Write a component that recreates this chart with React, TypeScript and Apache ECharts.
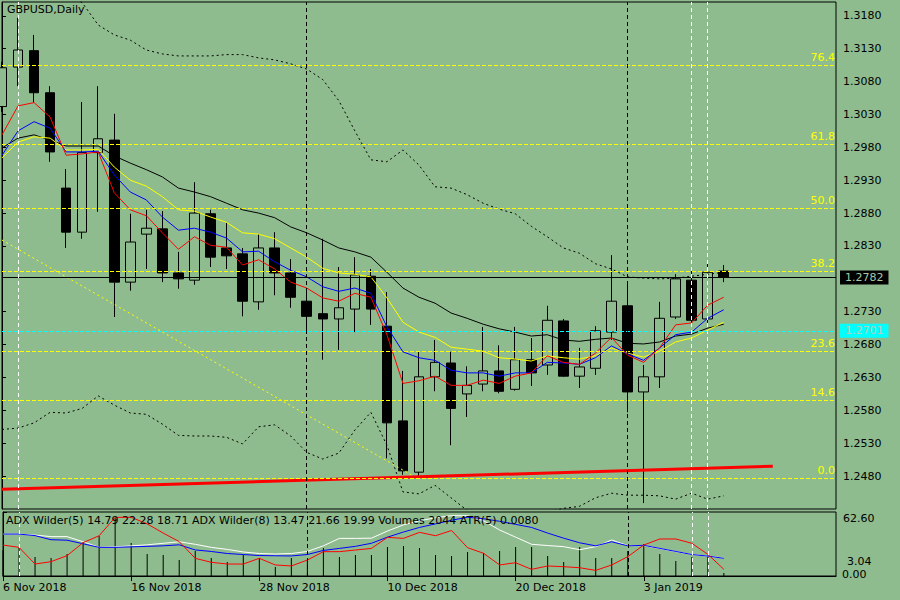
import React, { useEffect, useRef } from "react";
import * as echarts from "echarts";

const FONT = '"DejaVu Sans", sans-serif';
const BG = "#8FBC8F";

const dates = [
  "6 Nov 2018", "7 Nov 2018", "8 Nov 2018", "9 Nov 2018", "12 Nov 2018", "13 Nov 2018", "14 Nov 2018", "15 Nov 2018",
  "16 Nov 2018", "19 Nov 2018", "20 Nov 2018", "21 Nov 2018", "22 Nov 2018", "23 Nov 2018", "26 Nov 2018", "27 Nov 2018",
  "28 Nov 2018", "29 Nov 2018", "30 Nov 2018", "3 Dec 2018", "4 Dec 2018", "5 Dec 2018", "6 Dec 2018", "7 Dec 2018",
  "10 Dec 2018", "11 Dec 2018", "12 Dec 2018", "13 Dec 2018", "14 Dec 2018", "17 Dec 2018", "18 Dec 2018", "19 Dec 2018",
  "20 Dec 2018", "21 Dec 2018", "24 Dec 2018", "26 Dec 2018", "27 Dec 2018", "28 Dec 2018", "31 Dec 2018", "2 Jan 2019",
  "3 Jan 2019", "4 Jan 2019", "7 Jan 2019", "8 Jan 2019", "9 Jan 2019", "10 Jan 2019",
];
const emptySlots = 7;

const opens = [1.3042, 1.3102, 1.3127, 1.3063, 1.2918, 1.2851, 1.2972, 1.2991, 1.2775, 1.2848, 1.2856, 1.2789, 1.2778, 1.2879, 1.2827, 1.2818, 1.2745, 1.2827, 1.2789, 1.2746, 1.2727, 1.2719, 1.2734, 1.2784, 1.2708, 1.2564, 1.2486, 1.2631, 1.2652, 1.2605, 1.2620, 1.2640, 1.2612, 1.2657, 1.2649, 1.2716, 1.2632, 1.2644, 1.2699, 1.2739, 1.2608, 1.2631, 1.2722, 1.2778, 1.2719, 1.2792];
const closes = [1.3101, 1.3128, 1.3063, 1.2973, 1.2851, 1.2972, 1.2993, 1.2775, 1.2836, 1.2857, 1.2789, 1.2780, 1.2880, 1.2813, 1.2815, 1.2746, 1.2827, 1.2789, 1.2752, 1.2723, 1.2719, 1.2736, 1.2786, 1.2734, 1.2561, 1.2488, 1.2631, 1.2653, 1.2583, 1.2618, 1.2640, 1.2609, 1.2657, 1.2637, 1.2717, 1.2632, 1.2646, 1.2701, 1.2746, 1.2608, 1.2631, 1.2720, 1.2780, 1.2717, 1.2790, 1.2782];
const lows = [1.3034, 1.3073, 1.3048, 1.2958, 1.2827, 1.2841, 1.2882, 1.2722, 1.2762, 1.2795, 1.2775, 1.2765, 1.2771, 1.2798, 1.2795, 1.2723, 1.2733, 1.2755, 1.2736, 1.2702, 1.2657, 1.2672, 1.2699, 1.2710, 1.2507, 1.2482, 1.2480, 1.2609, 1.2527, 1.2570, 1.2609, 1.2606, 1.2610, 1.2617, 1.2634, 1.2631, 1.2614, 1.2634, 1.2687, 1.2577, 1.2439, 1.2614, 1.2719, 1.2713, 1.2713, 1.2775];
const highs = [1.3110, 1.3177, 1.3151, 1.3073, 1.2947, 1.3049, 1.3073, 1.3031, 1.2879, 1.2885, 1.2883, 1.2821, 1.2927, 1.2885, 1.2865, 1.2827, 1.2848, 1.2851, 1.2810, 1.2763, 1.2841, 1.2798, 1.2813, 1.2795, 1.2760, 1.2640, 1.2670, 1.2687, 1.2669, 1.2647, 1.2707, 1.2679, 1.2707, 1.2690, 1.2739, 1.2719, 1.2675, 1.2708, 1.2816, 1.2772, 1.2649, 1.2745, 1.2787, 1.2798, 1.2804, 1.2801];

const maRed = [1.2999, 1.3043, 1.3048, 1.3026, 1.2968, 1.2970, 1.2973, 1.2911, 1.2885, 1.2876, 1.2850, 1.2825, 1.2844, 1.2831, 1.2828, 1.2801, 1.2809, 1.2795, 1.2775, 1.2766, 1.2751, 1.2746, 1.2758, 1.2752, 1.2695, 1.2621, 1.2625, 1.2632, 1.2618, 1.2618, 1.2626, 1.2621, 1.2632, 1.2637, 1.2663, 1.2653, 1.2650, 1.2667, 1.2691, 1.2664, 1.2653, 1.2675, 1.2710, 1.2713, 1.2740, 1.2752];
const maBlue = [1.2968, 1.3005, 1.3019, 1.3009, 1.2973, 1.2973, 1.2974, 1.2938, 1.2912, 1.2900, 1.2874, 1.2854, 1.2857, 1.2851, 1.2842, 1.2821, 1.2822, 1.2806, 1.2793, 1.2783, 1.2768, 1.2761, 1.2766, 1.2758, 1.2707, 1.2669, 1.2660, 1.2656, 1.2641, 1.2637, 1.2637, 1.2632, 1.2637, 1.2637, 1.2653, 1.2652, 1.2650, 1.2660, 1.2678, 1.2666, 1.2656, 1.2675, 1.2695, 1.2699, 1.2720, 1.2733];
const maYellow = [1.2964, 1.2988, 1.2996, 1.2994, 1.2976, 1.2976, 1.2977, 1.2950, 1.2930, 1.2921, 1.2905, 1.2885, 1.2883, 1.2874, 1.2866, 1.2850, 1.2848, 1.2841, 1.2827, 1.2813, 1.2796, 1.2789, 1.2787, 1.2783, 1.2751, 1.2714, 1.2699, 1.2691, 1.2676, 1.2673, 1.2670, 1.2660, 1.2658, 1.2655, 1.2663, 1.2660, 1.2658, 1.2663, 1.2675, 1.2667, 1.2661, 1.2670, 1.2684, 1.2690, 1.2702, 1.2714];
const maBlack = [1.2979, 1.2994, 1.2999, 1.2991, 1.2982, 1.2982, 1.2982, 1.2967, 1.2956, 1.2946, 1.2935, 1.2918, 1.2912, 1.2905, 1.2895, 1.2885, 1.2880, 1.2873, 1.2859, 1.2850, 1.2839, 1.2827, 1.2821, 1.2813, 1.2790, 1.2766, 1.2752, 1.2743, 1.2728, 1.2720, 1.2711, 1.2704, 1.2699, 1.2693, 1.2695, 1.2687, 1.2685, 1.2688, 1.2690, 1.2682, 1.2681, 1.2684, 1.2693, 1.2696, 1.2705, 1.2711];

const bbUpper = [1.3250, 1.3242, 1.3235, 1.3226, 1.3213, 1.3200, 1.3166, 1.3151, 1.3143, 1.3128, 1.3122, 1.3119, 1.3119, 1.3119, 1.3121, 1.3121, 1.3116, 1.3113, 1.3107, 1.3099, 1.3083, 1.3051, 1.3005, 1.2961, 1.2958, 1.2976, 1.2953, 1.2920, 1.2918, 1.2908, 1.2895, 1.2886, 1.2879, 1.2860, 1.2844, 1.2827, 1.2819, 1.2803, 1.2795, 1.2783, 1.2781, 1.2780, 1.2781, 1.2784, 1.2787, 1.2790];
const bbLower = [1.2551, 1.2553, 1.2561, 1.2577, 1.2576, 1.2583, 1.2602, 1.2588, 1.2576, 1.2574, 1.2559, 1.2542, 1.2541, 1.2541, 1.2539, 1.2529, 1.2555, 1.2558, 1.2541, 1.2516, 1.2506, 1.2515, 1.2550, 1.2577, 1.2527, 1.2456, 1.2453, 1.2466, 1.2447, 1.2428, 1.2421, 1.2416, 1.2416, 1.2421, 1.2425, 1.2431, 1.2434, 1.2447, 1.2454, 1.2451, 1.2451, 1.2450, 1.2445, 1.2454, 1.2445, 1.2450];

const volumes = [18000, 19600, 13300, 12600, 15400, 23800, 28000, 40600, 23100, 15400, 14700, 11200, 17500, 12600, 9800, 14700, 12600, 6300, 12600, 11200, 19600, 13300, 14700, 14700, 20300, 21000, 19600, 14700, 14000, 16800, 16100, 17500, 20300, 20300, 14000, 9800, 20300, 12600, 12600, 17500, 22400, 15400, 10500, 13300, 14700, 2044];
const adxBlue = [41, 41, 39.5, 35.5, 35, 31.5, 28, 28, 28.5, 29, 29.5, 30.5, 25.5, 24, 22, 21, 20, 19.8, 19.6, 21, 25, 27, 29, 32, 38, 43, 47.5, 51, 54.5, 57.5, 56, 53.5, 50.5, 47.5, 42, 37, 32.5, 29.5, 33.5, 29.5, 30, 27, 24, 21, 19.5, 17.3];
const adxWhite = [41, 41, 40, 38.5, 38.5, 33.5, 28, 28.5, 29.5, 30.5, 32, 33.5, 31, 28, 26, 23.5, 22, 21.5, 22, 24, 29.5, 36.8, 36.8, 37, 44, 50, 54, 57, 59, 59, 54, 45, 38, 31, 29.8, 28.7, 25.7, 28.7, 35.2, 29.7, 29.8, 26.8, 23.8, 21, 19.5, 17.5];
const adxRed = [30.3, 28, 11.7, 14, 19.9, 32.6, 39.4, 57.4, 57.4, 51, 42, 33.6, 17.3, 13.4, 11.7, 11.7, 17.3, 10.8, 9.8, 15.6, 23.8, 23.8, 25.4, 27, 37.8, 36.8, 42.7, 39.4, 44.5, 27.7, 22.2, 10.8, 13, 6.5, 9.8, 9.1, 8.1, 5.5, 10.8, 18.9, 30.3, 36.2, 36.2, 32, 21.2, 6.5];

const priceTicks = [1.248, 1.253, 1.258, 1.263, 1.268, 1.273, 1.283, 1.288, 1.293, 1.298, 1.303, 1.308, 1.313, 1.318];
const fibLabels = ["0.0", "14.6", "23.6", "38.2", "50.0", "61.8", "76.4"];
const fibPrices = [1.2477, 1.2596, 1.2670, 1.2792, 1.2888, 1.2985, 1.3105];
const fibDiagonal = [[0, 1.2839], [25.8, 1.2478]];
const trendLine = [[0, 1.2460], [48.06, 1.2495]];
const separators = [19, 39];
const whiteLines = [1, 43, 44];
const lastPrice = 1.2782;
const cyanPrice = 1.2701;

const subTitle = "ADX Wilder(5) 14.79 22.28 18.71 ADX Wilder(8) 13.47 21.66 19.99 Volumes 2044 ATR(5) 0.0080";

function vLines() {
  return [
    ...separators.map((x) => ({ xAxis: x, lineStyle: { color: "#000", type: [4, 3], width: 1 } })),
    ...whiteLines.map((x) => ({ xAxis: x, lineStyle: { color: "#FFFFFF", type: [4, 3], width: 1 } })),
  ];
}

function hLines() {
  return [
    ...fibPrices.map((p, i) => ({
      yAxis: p,
      lineStyle: { color: "#FFFF00", type: [4, 2], width: 1 },
      label: { show: true, position: "insideEndTop", formatter: fibLabels[i], color: "#FFFF00", fontSize: 11, fontFamily: FONT, distance: [1, 2] },
    })),
    {
      yAxis: lastPrice,
      lineStyle: { color: "#000", type: "solid", width: 1 },
      label: { show: true, position: "end", formatter: lastPrice.toFixed(4), backgroundColor: "#000", color: "#A8C8A8", fontSize: 11, fontFamily: FONT, padding: [2, 5, 1, 5], distance: 4 },
    },
    {
      yAxis: cyanPrice,
      lineStyle: { color: "#00FFFF", type: [4, 2], width: 1 },
      label: { show: true, position: "end", formatter: cyanPrice.toFixed(4), backgroundColor: "#00FFFF", color: "#B8CCB8", fontSize: 11, fontFamily: FONT, padding: [2, 5, 1, 5], distance: 4 },
    },
  ];
}

function buildOption() {
  const cats = dates.concat(Array(emptySlots).fill(""));
  const maxIdx = cats.length - 1;
  const candle = dates.map((_, i) => [opens[i], closes[i], lows[i], highs[i]]);
  const lineS = (data: number[], color: string, extra: any = {}) => ({
    type: "line",
    xAxisIndex: 0,
    yAxisIndex: 0,
    data,
    showSymbol: false,
    symbol: "none",
    silent: true,
    lineStyle: { color, width: 1, ...(extra.lineStyle || {}) },
    z: 3,
  });
  const subLine = (data: number[], color: string) => ({
    type: "line",
    xAxisIndex: 1,
    yAxisIndex: 1,
    data,
    showSymbol: false,
    symbol: "none",
    silent: true,
    lineStyle: { color, width: 1 },
    z: 3,
  });
  const labelInterval = (idx: number) => idx % 8 === 0 && idx < dates.length;

  return {
    animation: false,
    backgroundColor: BG,
    textStyle: { fontFamily: FONT },
    grid: [
      { left: 2, top: 2, width: 834, height: 507, show: true, borderColor: "#000", borderWidth: 1, backgroundColor: "transparent" },
      { left: 2, top: 512, width: 834, height: 64, show: true, borderColor: "#000", borderWidth: 1, backgroundColor: "transparent" },
    ],
    xAxis: [
      { type: "category", gridIndex: 0, data: cats, boundaryGap: false, axisLine: { show: false }, axisTick: { show: false }, axisLabel: { show: false }, splitLine: { show: false } },
      {
        type: "category", gridIndex: 1, data: cats, boundaryGap: false,
        axisLine: { show: true, lineStyle: { color: "#000" } },
        axisTick: { show: true, interval: labelInterval, length: 5, lineStyle: { color: "#000" } },
        axisLabel: { show: true, interval: labelInterval, align: "left", margin: 6, color: "#000", fontSize: 11, fontFamily: FONT },
        splitLine: { show: false },
      },
      { type: "value", gridIndex: 0, min: 0, max: maxIdx, show: false },
      { type: "value", gridIndex: 1, min: 0, max: maxIdx, show: false },
    ],
    yAxis: [
      {
        type: "value", gridIndex: 0, position: "right", min: 1.243, max: 1.3201,
        splitLine: { show: false },
        axisLine: { show: true, lineStyle: { color: "#000" } },
        axisTick: { show: true, customValues: priceTicks, length: 4, lineStyle: { color: "#000" } },
        axisLabel: { show: true, customValues: priceTicks, formatter: (v: number) => v.toFixed(4), color: "#000", fontSize: 11, fontFamily: FONT, margin: 7 },
      },
      {
        type: "value", gridIndex: 1, position: "right", min: 0, max: 62.6,
        splitLine: { show: false },
        axisLine: { show: true, lineStyle: { color: "#000" } },
        axisTick: { show: true, customValues: [0, 62.6], length: 4, lineStyle: { color: "#000" } },
        axisLabel: { show: false },
      },
      { type: "value", gridIndex: 1, min: 0, max: 44800, show: false },
    ],
    graphic: [
      { type: "text", left: 7, top: 4, style: { text: "GBPUSD,Daily", fill: "#000", font: `11px ${FONT}` }, z: 10 },
      { type: "text", left: 6, top: 515, style: { text: subTitle, fill: "#000", font: `11px ${FONT}` }, z: 10 },
      { type: "text", left: 843, top: 513, style: { text: "62.60", fill: "#000", font: `11px ${FONT}` }, z: 10 },
      { type: "text", left: 847, top: 556, style: { text: "3.04", fill: "#000", font: `11px ${FONT}` }, z: 10 },
      { type: "text", left: 842, top: 569, style: { text: "0.00", fill: "#000", font: `11px ${FONT}` }, z: 10 },
    ],
    series: [
      {
        type: "candlestick",
        xAxisIndex: 0,
        yAxisIndex: 0,
        data: candle,
        barWidth: 10,
        clip: true,
        silent: true,
        itemStyle: { color: BG, color0: "#000", borderColor: "#000", borderColor0: "#000", borderWidth: 1 },
        z: 2,
      },
      lineS(bbUpper, "#000", { lineStyle: { type: [2, 3] } }),
      lineS(bbLower, "#000", { lineStyle: { type: [2, 3] } }),
      lineS(maBlack, "#000"),
      lineS(maYellow, "#FFFF00"),
      lineS(maBlue, "#0000FF"),
      lineS(maRed, "#FF0000"),
      {
        type: "line", xAxisIndex: 2, yAxisIndex: 0, data: fibDiagonal, showSymbol: false, symbol: "none", silent: true,
        lineStyle: { color: "#FFFF00", width: 1, type: [2, 3] }, z: 3,
        markLine: { silent: true, precision: 4, symbol: ["none", "none"], animation: false, data: hLines() },
      },
      {
        type: "line", xAxisIndex: 2, yAxisIndex: 0, data: trendLine, showSymbol: false, symbol: "none", silent: true,
        lineStyle: { color: "#FF0000", width: 3 }, z: 4,
        markLine: { silent: true, precision: 4, symbol: ["none", "none"], animation: false, label: { show: false }, data: vLines() },
      },
      {
        type: "bar", xAxisIndex: 1, yAxisIndex: 2, data: volumes, barWidth: 1, silent: true,
        itemStyle: { color: "#000" }, z: 2,
      },
      subLine(adxWhite, "#FFFFFF"),
      subLine(adxBlue, "#0000FF"),
      subLine(adxRed, "#FF0000"),
      {
        type: "line", xAxisIndex: 3, yAxisIndex: 1, data: [[0, -10], [maxIdx, -10]], showSymbol: false, symbol: "none", silent: true,
        lineStyle: { opacity: 0 },
        markLine: { silent: true, precision: 4, symbol: ["none", "none"], animation: false, label: { show: false }, data: vLines() },
      },
    ],
  };
}

export default function App() {
  const ref = useRef<HTMLDivElement>(null);
  useEffect(() => {
    if (!ref.current) return;
    const chart = echarts.init(ref.current, null, { renderer: "svg" });
    chart.setOption(buildOption() as any);
    return () => chart.dispose();
  }, []);
  return (
    <div style={{ position: "fixed", left: 0, top: 0, width: 900, height: 600, background: BG }}>
      <div ref={ref} style={{ width: 900, height: 600 }} />
    </div>
  );
}
